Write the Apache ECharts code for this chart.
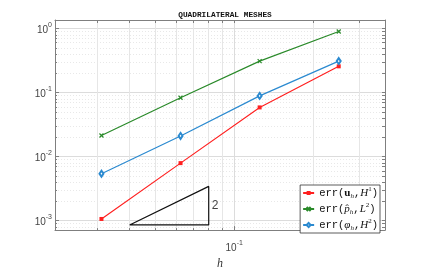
<!DOCTYPE html>
<html><head><meta charset="utf-8">
<script src="https://cdn.jsdelivr.net/npm/echarts@6/dist/echarts.min.js"></script>
<style>html,body{margin:0;padding:0;background:#fff}#c{width:425px;height:275px}</style>
</head><body><div id="c"></div>
<script>
// ---- data ----
const titleText = 'QUADRILATERAL MESHES';
const hValues = [1/32, 1/16, 1/8, 1/4];
const errU = [0.00106, 0.0079, 0.0586, 0.257];
const errP = [0.0213, 0.083, 0.31, 0.90];
const errPhi = [0.0054, 0.021, 0.0887, 0.31];
const seriesNames = ['u', 'p', 'phi'];
const xMajorTicks = [0.1];
const xMinorTicks = [0.03, 0.04, 0.05, 0.06, 0.07, 0.08, 0.09, 0.2, 0.3];
const yMajorTicks = [0.001, 0.01, 0.1, 1];
const yMinorTicks = [];
[0.0001, 0.001, 0.01, 0.1, 1].forEach(d => { for (let k = 2; k <= 9; k++) yMinorTicks.push(+(d * k).toPrecision(3)); });
const xRange = [0.0208, 0.375];
const yRange = [0.00071, 1.36];
// slope triangle (order 2)
const triX = [0.04, 0.08, 0.08, 0.04];
const triY = [0.000855, 0.000855, 0.00342, 0.000855];
const triLabel = '2';

const chart = echarts.init(document.getElementById('c'));
const axisGray = '#7f7f7f';
const pow10 = v => { const e = Math.round(Math.log10(v)); return '{b|10}{s|' + e + '}'; };
const tickRich = { b: { fontSize: 10, fontFamily: 'Liberation Sans', color: '#444', lineHeight: 14, verticalAlign: 'bottom' }, s: { fontSize: 7, fontFamily: 'Liberation Sans', color: '#444', lineHeight: 8, verticalAlign: 'top' } };
const legendFmt = {
  u: '{m|err(}{bu|u}{sub|h}{m|,}{i|H}{sup|1}{m|)}',
  p: '{m|err(}{i|p̂}{sub|h}{m|,}{i|L}{sup|2}{m|)}',
  phi: '{m|err(}{i|φ}{sub|h}{m|,}{i|H}{sup|2}{m|)}'
};
const colors = { u: '#ff2020', p: '#2a8a2a', phi: '#2b8ad0' };
const xPath = 'path://M0,0L10,10M10,0L0,10';
const gridBox = { left: 55, right: 40, top: 20, bottom: 36 };
const mk = a => hValues.map((h, i) => [h, a[i]]);

chart.setOption({
  animation: false,
  title: { text: titleText, left: 220, top: 6, textAlign: 'center',
    textStyle: { fontFamily: 'Liberation Mono', fontSize: 7.8, fontWeight: 'bold', color: '#111' } },
  grid: gridBox,
  legend: {
    data: seriesNames, orient: 'vertical', right: 45, bottom: 42,
    itemWidth: 11, itemHeight: 5, itemGap: 2, padding: [1, 2, 1, 2],
    borderColor: '#333', borderWidth: 0.8, backgroundColor: '#fff',
    formatter: n => legendFmt[n],
    textStyle: { rich: {
      m: { fontFamily: 'Liberation Mono', fontSize: 10.5, color: '#111', lineHeight: 14, verticalAlign: 'middle' },
      bu: { fontFamily: 'Liberation Serif', fontWeight: 'bold', fontSize: 11, color: '#111', lineHeight: 14, verticalAlign: 'middle' },
      i: { fontFamily: 'Liberation Serif', fontStyle: 'italic', fontSize: 11, color: '#111', lineHeight: 14, verticalAlign: 'middle' },
      sub: { fontFamily: 'Liberation Serif', fontStyle: 'italic', fontSize: 7, color: '#111', lineHeight: 8, verticalAlign: 'bottom' },
      sup: { fontFamily: 'Liberation Serif', fontSize: 7, color: '#111', lineHeight: 8, verticalAlign: 'top' }
    } }
  },
  xAxis: [
    { type: 'log', min: xRange[0], max: xRange[1], position: 'bottom',
      axisLine: { show: true, lineStyle: { color: axisGray, width: 1 } },
      axisTick: { show: true, inside: true, length: 4, customValues: xMajorTicks, lineStyle: { color: axisGray } },
      axisLabel: { show: true, customValues: xMajorTicks, formatter: pow10, rich: tickRich, margin: 9 },
      splitLine: { show: true, lineStyle: { color: '#dcdcdc', width: 1 } },
      name: 'h', nameLocation: 'middle', nameGap: 26,
      nameTextStyle: { fontFamily: 'Liberation Serif', fontStyle: 'italic', fontSize: 12, color: '#333' } },
    { type: 'log', min: xRange[0], max: xRange[1], position: 'bottom',
      axisLine: { show: false },
      axisTick: { show: true, inside: true, length: 2, customValues: xMinorTicks, lineStyle: { color: axisGray } },
      axisLabel: { show: false }, splitLine: { show: true, lineStyle: { color: '#e6e6e6', width: 1 } } },
    { type: 'log', min: xRange[0], max: xRange[1], position: 'top',
      axisLine: { show: true, lineStyle: { color: axisGray, width: 1 } },
      axisTick: { show: true, inside: true, length: 3, customValues: xMajorTicks.concat(xMinorTicks), lineStyle: { color: axisGray } },
      axisLabel: { show: false }, splitLine: { show: false } }
  ],
  yAxis: [
    { type: 'log', min: yRange[0], max: yRange[1], position: 'left',
      axisLine: { show: true, lineStyle: { color: axisGray, width: 1 } },
      axisTick: { show: true, inside: true, length: 4, customValues: yMajorTicks, lineStyle: { color: axisGray } },
      axisLabel: { show: true, customValues: yMajorTicks, formatter: pow10, rich: tickRich, margin: 3 },
      splitLine: { show: true, lineStyle: { color: '#dcdcdc', width: 1 } } },
    { type: 'log', min: yRange[0], max: yRange[1], position: 'left',
      axisLine: { show: false },
      axisTick: { show: true, inside: true, length: 2, customValues: yMinorTicks, lineStyle: { color: axisGray } },
      axisLabel: { show: false }, splitLine: { show: true, lineStyle: { color: '#e8e8e8', width: 1, type: [1, 2] } } },
    { type: 'log', min: yRange[0], max: yRange[1], position: 'right',
      axisLine: { show: true, lineStyle: { color: axisGray, width: 1 } },
      axisTick: { show: true, inside: true, length: 3, customValues: yMajorTicks.concat(yMinorTicks), lineStyle: { color: axisGray } },
      axisLabel: { show: false }, splitLine: { show: false } }
  ],
  series: [
    { name: 'u', type: 'line', data: mk(errU), color: colors.u, symbol: 'rect', symbolSize: 4,
      lineStyle: { width: 1.2 }, itemStyle: { color: colors.u } },
    { name: 'p', type: 'line', data: mk(errP), color: colors.p, symbol: xPath, symbolSize: 4,
      lineStyle: { width: 1.2 }, itemStyle: { color: colors.p, borderColor: colors.p, borderWidth: 1.2 } },
    { name: 'phi', type: 'line', data: mk(errPhi), color: colors.phi, symbol: 'emptyDiamond', symbolSize: [4, 6],
      lineStyle: { width: 1.2 }, itemStyle: { color: colors.phi, borderColor: colors.phi, borderWidth: 1 } },
    { name: 'tri', type: 'line', data: triX.map((x, i) => [x, triY[i]]), symbol: 'none',
      lineStyle: { color: '#111', width: 1.2 }, z: 3 },
    { name: 'triLabel', type: 'scatter', symbolSize: 0,
      data: [[triX[1], Math.sqrt(triY[1] * triY[2])]],
      label: { show: true, position: 'right', distance: 3, formatter: triLabel, fontFamily: 'Liberation Sans', fontSize: 12, color: '#111' } }
  ]
});
</script></body></html>
